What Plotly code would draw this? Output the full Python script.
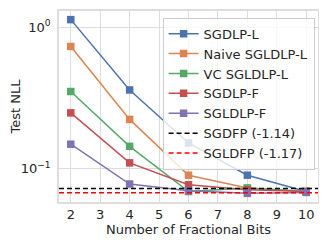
import plotly.graph_objects as go

bits = [2, 4, 6, 8, 10]
sgdlp_l = [1.13, 0.36, 0.152, 0.090, 0.069]
naive_sgldlp_l = [0.73, 0.223, 0.090, 0.073, 0.069]
vc_sgldlp_l = [0.351, 0.144, 0.069, 0.073, 0.069]
sgdlp_f = [0.248, 0.110, 0.077, 0.071, 0.069]
sgldlp_f = [0.149, 0.078, 0.070, 0.067, 0.068]
sgdfp_log = -1.14
sgldfp_log = -1.17
x_limits = [1.6, 10.4]
y_log_limits = [-1.235, 0.114]

series = [
    ("SGDLP-L", sgdlp_l, "#4C72B0"),
    ("Naive SGLDLP-L", naive_sgldlp_l, "#DD8452"),
    ("VC SGLDLP-L", vc_sgldlp_l, "#55A868"),
    ("SGDLP-F", sgdlp_f, "#C44E52"),
    ("SGLDLP-F", sgldlp_f, "#8172B3"),
]

fig = go.Figure()
for name, vals, col in series:
    fig.add_trace(go.Scatter(
        x=bits, y=vals, name=name, mode="lines+markers",
        line=dict(color=col, width=1.5),
        marker=dict(symbol="square", size=7.5, color=col),
    ))

fig.add_trace(go.Scatter(
    x=x_limits, y=[10 ** sgdfp_log] * 2, name="SGDFP (-1.14)", mode="lines",
    line=dict(color="black", width=1.5, dash="5px,3px"),
))
fig.add_trace(go.Scatter(
    x=x_limits, y=[10 ** sgldfp_log] * 2, name="SGLDFP (-1.17)", mode="lines",
    line=dict(color="red", width=1.5, dash="5px,3px"),
))

font = "DejaVu Sans"
# the page body has an 8px margin, so the figure is drawn 8px in from the top-left
fig.update_layout(
    width=319, height=237,
    margin=dict(l=50, r=9, t=1, b=43),
    paper_bgcolor="white", plot_bgcolor="white",
    font=dict(family=font, size=13, color="#262626"),
    showlegend=True,
    legend=dict(
        x=0.40, y=0.965, xanchor="left", yanchor="top",
        bgcolor="rgba(255,255,255,0.8)", bordercolor="#cccccc", borderwidth=1,
        font=dict(size=13), tracegroupgap=0, itemwidth=30,
    ),
    xaxis=dict(
        range=x_limits, tickvals=list(range(2, 11)),
        showgrid=True, gridcolor="#dddddd", gridwidth=1,
        showline=True, linecolor="#dddddd", mirror=True, linewidth=1.5,
        zeroline=False, ticks="", automargin=True, ticklabelstandoff=0,
        title=dict(text="Number of Fractional Bits", standoff=0, font=dict(size=13)),
    ),
    yaxis=dict(
        type="log", range=y_log_limits,
        tickvals=[0.1, 1], ticktext=["10<sup>\u22121</sup>", "10<sup>0</sup>"],
        showgrid=True, gridcolor="#dddddd", gridwidth=1,
        showline=True, linecolor="#dddddd", mirror=True, linewidth=1.5,
        zeroline=False, ticks="", automargin=True, ticklabelstandoff=4,
        title=dict(text="Test NLL", standoff=3, font=dict(size=13)),
    ),
)

fig.write_html("out.html")
